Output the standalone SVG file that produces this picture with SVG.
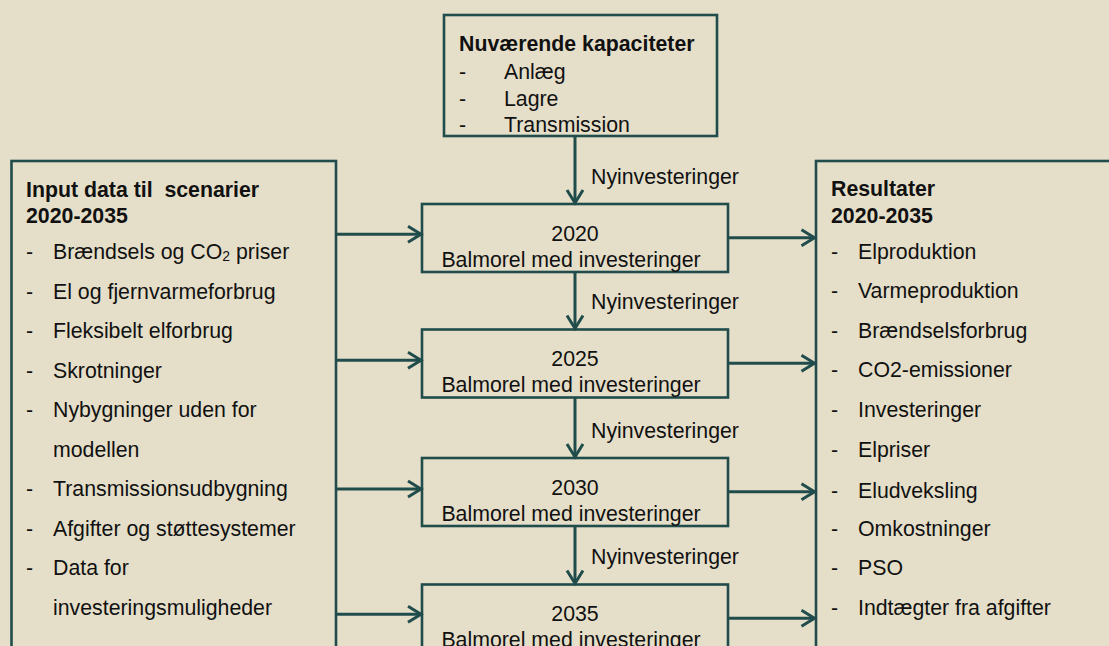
<svg xmlns="http://www.w3.org/2000/svg" width="1109" height="646" viewBox="0 0 1109 646">
<defs>
<style>
.bg{fill:#E5DFC9}
.box{fill:#E5DFC9;stroke:#214C4C;stroke-width:2.6}
.con{stroke:#214C4C;stroke-width:3;fill:none}
text{font-family:"Liberation Sans",Arial,sans-serif;font-size:21.3px;fill:#111}
.b{font-weight:bold}
.m{text-anchor:middle}
</style>
<marker id="arr" markerUnits="userSpaceOnUse" viewBox="-16 -10 18 20" refX="0" refY="0" markerWidth="18" markerHeight="20" orient="auto" overflow="visible">
<path d="M-13,-8 L0,0 L-13,8" fill="none" stroke="#214C4C" stroke-width="3"/>
</marker>
</defs>
<rect class="bg" x="0" y="0" width="1109" height="646"/>

<g id="node-current">
<rect class="box" x="444" y="15" width="273" height="121"/>
<text class="b" x="459" y="51">Nuværende kapaciteter</text>
<text x="459" y="79">-</text><text x="504" y="79">Anlæg</text>
<text x="459" y="105.5">-</text><text x="504" y="105.5">Lagre</text>
<text x="459" y="132">-</text><text x="504" y="132">Transmission</text>
</g>

<g id="node-input">
<rect class="box" x="11.5" y="161" width="324.5" height="500"/>
<text class="b" x="26" y="196.5" xml:space="preserve">Input data til  scenarier</text>
<text class="b" x="26" y="223.3">2020-2035</text>
<text x="26" y="259.3">-</text><text x="53" y="259.3">Brændsels og CO<tspan font-size="14" dy="2">2</tspan><tspan dy="-2"> priser</tspan></text>
<text x="26" y="298.5">-</text><text x="53" y="298.5">El og fjernvarmeforbrug</text>
<text x="26" y="338">-</text><text x="53" y="338">Fleksibelt elforbrug</text>
<text x="26" y="377.5">-</text><text x="53" y="377.5">Skrotninger</text>
<text x="26" y="417">-</text><text x="53" y="417">Nybygninger uden for</text>
<text x="53" y="456.5">modellen</text>
<text x="26" y="496">-</text><text x="53" y="496">Transmissionsudbygning</text>
<text x="26" y="535.5">-</text><text x="53" y="535.5">Afgifter og støttesystemer</text>
<text x="26" y="575">-</text><text x="53" y="575">Data for</text>
<text x="53" y="615">investeringsmuligheder</text>
</g>

<g id="node-results">
<rect class="box" x="816" y="161" width="320" height="500"/>
<text class="b" x="831" y="195.7">Resultater</text>
<text class="b" x="831" y="223.3">2020-2035</text>
<text x="831" y="259.3">-</text><text x="858" y="259.3">Elproduktion</text>
<text x="831" y="298">-</text><text x="858" y="298">Varmeproduktion</text>
<text x="831" y="337.7">-</text><text x="858" y="337.7">Brændselsforbrug</text>
<text x="831" y="377">-</text><text x="858" y="377">CO2-emissioner</text>
<text x="831" y="417">-</text><text x="858" y="417">Investeringer</text>
<text x="831" y="457">-</text><text x="858" y="457">Elpriser</text>
<text x="831" y="497.5">-</text><text x="858" y="497.5">Eludveksling</text>
<text x="831" y="536">-</text><text x="858" y="536">Omkostninger</text>
<text x="831" y="575">-</text><text x="858" y="575">PSO</text>
<text x="831" y="615">-</text><text x="858" y="615">Indtægter fra afgifter</text>
</g>

<g id="node-2020">
<rect class="box" x="422" y="204" width="306" height="68"/>
<text class="m" x="575" y="240.7">2020</text>
<text class="m" x="571" y="267.3">Balmorel med investeringer</text>
</g>
<g id="node-2025">
<rect class="box" x="422" y="329.5" width="306" height="68"/>
<text class="m" x="575" y="366">2025</text>
<text class="m" x="571" y="392">Balmorel med investeringer</text>
</g>
<g id="node-2030">
<rect class="box" x="422" y="458" width="306" height="68"/>
<text class="m" x="575" y="495">2030</text>
<text class="m" x="571" y="521">Balmorel med investeringer</text>
</g>
<g id="node-2035">
<rect class="box" x="422" y="584.5" width="306" height="68"/>
<text class="m" x="575" y="621">2035</text>
<text class="m" x="571" y="647">Balmorel med investeringer</text>
</g>

<g id="connectors">
<line class="con" x1="575" y1="136" x2="575" y2="203" marker-end="url(#arr)"/>
<line class="con" x1="575" y1="272" x2="575" y2="328.5" marker-end="url(#arr)"/>
<line class="con" x1="575" y1="397.5" x2="575" y2="457" marker-end="url(#arr)"/>
<line class="con" x1="575" y1="526" x2="575" y2="583.5" marker-end="url(#arr)"/>
<line class="con" x1="336" y1="234.3" x2="421" y2="234.3" marker-end="url(#arr)"/>
<line class="con" x1="336" y1="360.3" x2="421" y2="360.3" marker-end="url(#arr)"/>
<line class="con" x1="336" y1="489" x2="421" y2="489" marker-end="url(#arr)"/>
<line class="con" x1="336" y1="614.3" x2="421" y2="614.3" marker-end="url(#arr)"/>
<line class="con" x1="728" y1="237.7" x2="814.5" y2="237.7" marker-end="url(#arr)"/>
<line class="con" x1="728" y1="363.3" x2="814.5" y2="363.3" marker-end="url(#arr)"/>
<line class="con" x1="728" y1="491.7" x2="814.5" y2="491.7" marker-end="url(#arr)"/>
<line class="con" x1="728" y1="618.3" x2="814.5" y2="618.3" marker-end="url(#arr)"/>
<text x="591" y="184">Nyinvesteringer</text>
<text x="591" y="309.3">Nyinvesteringer</text>
<text x="591" y="438">Nyinvesteringer</text>
<text x="591" y="564.3">Nyinvesteringer</text>
</g>
</svg>
